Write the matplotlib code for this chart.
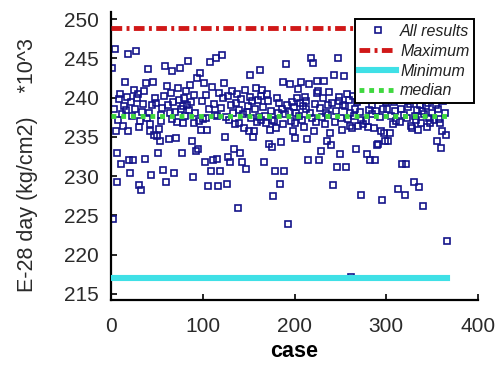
import matplotlib
matplotlib.use("Agg")
import matplotlib.pyplot as plt
import numpy as np

# E-28 day values (x10^3 kg/cm2) for cases 1..366
e28_001_100 = [
    243.8, 224.5, 238.6, 246.2, 235.7, 233.0, 229.3, 237.2, 239.8, 240.4,
    231.6, 237.9, 236.4, 238.9, 242.0, 238.4, 240.1, 245.5, 235.7, 232.0,
    230.4, 239.5, 237.6, 232.0, 241.0, 238.6, 246.0, 239.9, 240.4, 228.9,
    236.3, 237.0, 228.2, 238.2, 239.2, 240.8, 232.2, 241.8, 237.4, 243.6,
    238.0, 236.6, 235.7, 230.2, 239.0, 242.0, 235.3, 240.0, 239.3, 235.1,
    233.0, 236.0, 234.5, 237.8, 237.0, 238.7, 230.8, 240.2, 244.0, 229.3,
    241.5, 239.1, 234.7, 238.0, 240.6, 237.3, 243.4, 239.4, 230.4, 238.2,
    234.9, 236.9, 241.2, 239.7, 243.8, 238.5, 233.0, 238.9, 236.8, 240.0,
    237.7, 240.8, 239.0, 244.7, 238.4, 241.6, 239.5, 234.5, 229.9, 236.8,
    240.3, 238.0, 233.2, 242.5, 233.5, 237.0, 243.1, 235.9, 239.6, 237.3,
]
e28_101_200 = [
    241.8, 231.8, 237.4, 240.3, 235.9, 228.8, 238.5, 244.6, 230.7, 241.4,
    232.0, 239.2, 237.8, 245.0, 237.6, 232.2, 228.8, 240.6, 230.7, 238.7,
    245.4, 239.9, 241.8, 235.0, 237.5, 229.0, 240.2, 232.4, 237.2, 231.8,
    239.0, 240.8, 238.1, 233.5, 236.6, 239.3, 240.5, 226.0, 238.4, 236.8,
    233.0, 239.8, 231.8, 237.9, 236.1, 241.0, 230.9, 238.2, 238.9, 235.7,
    240.1, 242.9, 237.4, 239.6, 235.0, 235.7, 238.6, 241.2, 236.9, 239.7,
    237.5, 243.5, 237.2, 240.2, 241.0, 238.8, 231.8, 237.7, 236.8, 240.4,
    239.6, 234.1, 235.9, 238.3, 237.1, 233.7, 227.5, 237.0, 230.7, 236.1,
    239.9, 238.0, 239.3, 229.0, 234.3, 238.6, 242.0, 236.6, 230.7, 237.9,
    244.3, 239.1, 223.9, 238.2, 241.7, 237.0, 239.5, 235.7, 238.8, 234.9,
]
e28_201_300 = [
    236.8, 238.1, 240.0, 241.1, 237.6, 239.3, 242.0, 237.2, 238.9, 236.3,
    240.1, 238.5, 239.6, 234.7, 232.1, 241.7, 238.0, 245.1, 237.4, 244.4,
    235.7, 239.2, 236.9, 240.6, 242.1, 240.9, 232.1, 238.7, 233.2, 237.5,
    239.9, 242.1, 236.6, 238.1, 234.5, 239.0, 237.8, 240.7, 235.5, 234.0,
    239.3, 228.9, 242.9, 236.9, 238.3, 231.1, 245.1, 239.6, 240.1, 232.8,
    237.4, 235.9, 239.1, 242.7, 238.9, 231.1, 240.5, 237.3, 239.7, 238.1,
    236.4, 217.2, 236.1, 240.2, 237.7, 238.6, 233.4, 239.5, 236.4, 241.0,
    238.2, 237.2, 227.6, 239.8, 236.7, 243.5, 240.4, 237.0, 232.8, 236.2,
    238.4, 232.1, 241.2, 237.9, 239.0, 244.0, 236.1, 232.0, 238.3, 234.0,
    234.1, 240.6, 237.5, 235.7, 227.0, 238.5, 242.3, 235.5, 234.5, 239.4,
]
e28_301_366 = [
    238.5, 234.5, 241.0, 235.5, 237.6, 243.0, 236.6, 239.5, 240.2, 238.3,
    237.0, 244.5, 228.4, 239.7, 236.9, 238.6, 231.6, 241.8, 237.8, 227.6,
    240.5, 231.6, 237.4, 238.8, 242.6, 239.2, 236.4, 236.1, 240.0, 229.2,
    237.6, 237.2, 238.4, 245.0, 235.9, 228.6, 239.1, 236.8, 238.3, 226.2,
    237.9, 240.8, 238.9, 236.2, 242.1, 239.3, 237.4, 236.8, 239.8, 238.0,
    241.0, 237.1, 243.7, 239.0, 234.5, 238.5, 240.3, 237.3, 236.8, 233.6,
    235.7, 239.6, 241.4, 238.1, 235.3, 221.7,
]

# reference lines
max_val = 248.9
min_val = 217.0
median_val = 237.7

e28 = np.array(e28_001_100 + e28_101_200 + e28_201_300 + e28_301_366)
cases = np.arange(1, len(e28) + 1)
line_x = [0, len(e28)]

plt.rcParams['font.family'] = ['Liberation Sans', 'DejaVu Sans']

fig = plt.figure(figsize=(5, 3.66), dpi=100)
ax = fig.add_axes([0.222, 0.180, 0.734, 0.787])

ax.plot(cases, e28, linestyle='none', marker='s', markersize=4.6,
        markerfacecolor='none', markeredgecolor='#14148a', markeredgewidth=1.2,
        label='All results', zorder=2)
ax.plot(line_x, [max_val, max_val], color='#d01818', linewidth=3.5,
        dashes=(2.2, 0.9, 0.6, 0.9), label='Maximum', zorder=3)
ax.plot(line_x, [min_val, min_val], color='#3fe0e6', linewidth=4.4,
        label='Minimum', zorder=3)
ax.plot(line_x, [median_val, median_val], color='#3fd83f', linewidth=3.5,
        dashes=(1, 1), label='median', zorder=3)

ax.set_xlim(0, 400)
ax.set_ylim(214.2, 250.9)
ax.set_xticks([0, 100, 200, 300, 400])
ax.set_yticks(np.arange(215, 251, 5))

for side in ['top', 'right']:
    ax.spines[side].set_visible(False)
for side in ['left', 'bottom']:
    ax.spines[side].set_linewidth(1.6)

ax.tick_params(direction='in', length=4, width=1.2, labelsize=15,
               labelcolor='#2a2a2a', pad=9)
ax.tick_params(axis='x', pad=12)

ax.set_xlabel('case', fontsize=15.5, fontweight='bold', labelpad=4)
ax.set_ylabel('E-28 day (kg/cm2)    *10^3', fontsize=15.5,
              color='#2a2a2a')
ax.yaxis.set_label_coords(-0.20, 0.47)

leg = ax.legend(loc='upper right', bbox_to_anchor=(0.99, 0.975),
                fontsize=11.5, handlelength=2.3, handletextpad=0.25,
                labelspacing=0.3, borderpad=0.3, fancybox=False,
                framealpha=1, edgecolor='black', borderaxespad=0)
leg.get_frame().set_linewidth(1.4)
leg.set_zorder(5)
for t in leg.get_texts():
    t.set_fontstyle('italic')
    t.set_color('#222222')

fig.savefig('out.png', dpi=100)
